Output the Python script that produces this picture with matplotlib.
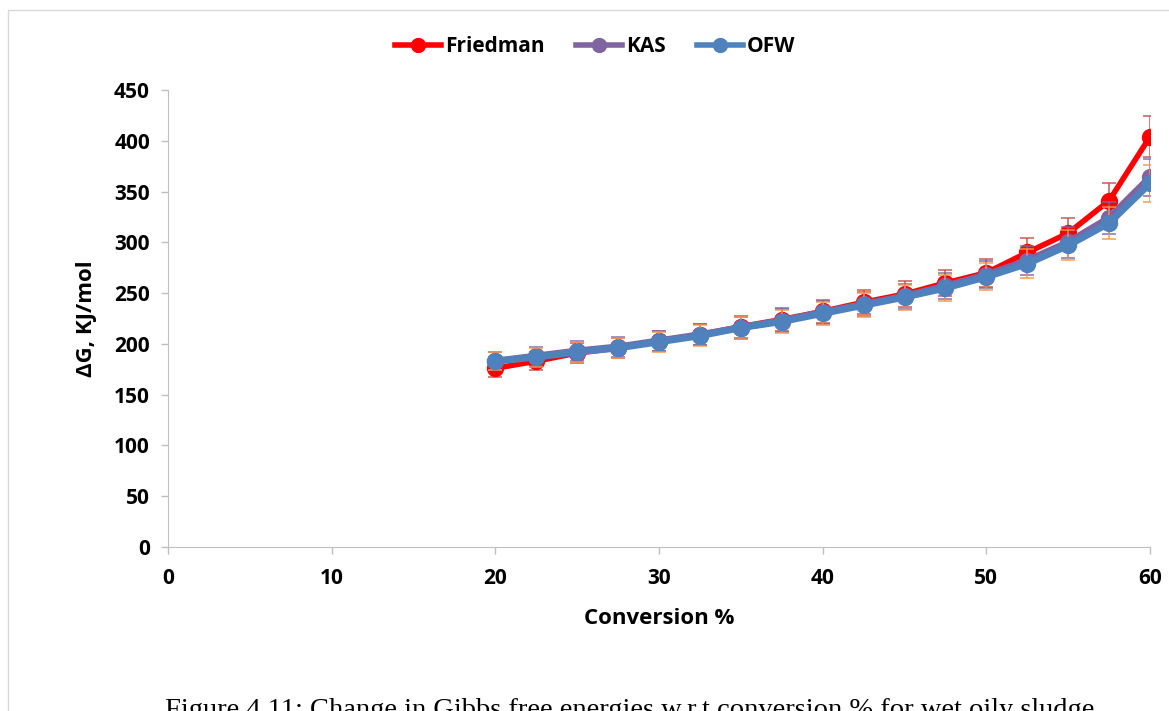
import matplotlib
matplotlib.use('Agg')
import matplotlib.pyplot as plt
from matplotlib.patches import Rectangle

# conversion % and Gibbs free energy (kJ/mol) per method
conversion = [20, 22.5, 25, 27.5, 30, 32.5, 35, 37.5, 40, 42.5, 45, 47.5, 50, 52.5, 55, 57.5, 60]
friedman = [176, 183, 191, 196, 203, 209, 217, 224, 232, 241, 249, 260, 270, 290, 309, 341, 404]
kas = [183, 188, 193, 197, 203, 209, 216, 223, 231, 239, 247, 257, 268, 282, 300, 324, 364]
ofw = [183, 187, 192, 196, 202, 208, 216, 222, 230, 238, 246, 255, 266, 279, 297, 319, 358]
err_frac = 0.05

W, H = 1169, 711
fig = plt.figure(figsize=(W / 100, H / 100), dpi=100)
ax = fig.add_axes([168 / W, 1 - 547 / H, (1150 - 168) / W, (547 - 90) / H])

font = 'Open Sans'

# chart border
fig.patches.append(Rectangle((8 / W, -0.1), 1.2, 1 - 10 / H + 0.1, transform=fig.transFigure,
                             fill=False, edgecolor='#d9d9d9', linewidth=1.0))

series = [
    ('Friedman', friedman, '#FF0000', '#C0504D', 4),
    ('KAS', kas, '#8064A2', '#8064A2', 5),
    ('OFW', ofw, '#4F81BD', '#F79646', 5),
]
for name, vals, col, ecol, lw in series:
    errs = [v * err_frac for v in vals]
    ax.errorbar(conversion, vals, yerr=errs, fmt='none', ecolor=ecol, elinewidth=1.2,
                capsize=5, capthick=1.2, alpha=0.85)
    ax.plot(conversion, vals, color=col, linewidth=lw, marker='o', markersize=11.5,
            label=name)

ax.set_xlim(0, 60)
ax.set_ylim(0, 450)
ax.set_xticks(range(0, 61, 10))
ax.set_yticks(range(0, 451, 50))
for s in ['top', 'right']:
    ax.spines[s].set_visible(False)
for s in ['left', 'bottom']:
    ax.spines[s].set_color('#bfbfbf')
ax.tick_params(colors='#bfbfbf', length=5, width=1, labelcolor='black')
ax.tick_params(axis='y', pad=8)
ax.tick_params(axis='x', pad=10)
for lab in ax.get_xticklabels() + ax.get_yticklabels():
    lab.set_fontfamily(font)
    lab.set_fontweight('bold')
    lab.set_fontsize(15)

ax.set_xlabel('Conversion %', fontfamily=font, fontweight='bold', fontsize=16, labelpad=14)
ax.set_ylabel('ΔG, KJ/mol', fontfamily=font, fontweight='bold', fontsize=16, labelpad=12)

leg = ax.legend(loc='center', bbox_to_anchor=(595 / W, 1 - 47 / H), bbox_transform=fig.transFigure,
                ncol=3, frameon=False, handlelength=2.2, columnspacing=1.5, handletextpad=0.2,
                prop={'family': font, 'weight': 'bold', 'size': 15})
for h in leg.legend_handles:
    h.set_markersize(10)
    h.set_linewidth(4)

fig.text(630 / W, 1 - 698 / H,
         'Figure 4.11: Change in Gibbs free energies w.r.t conversion % for wet oily sludge',
         ha='center', va='top', fontfamily='Liberation Serif', fontsize=20.5)

fig.savefig('out.png', dpi=100)
